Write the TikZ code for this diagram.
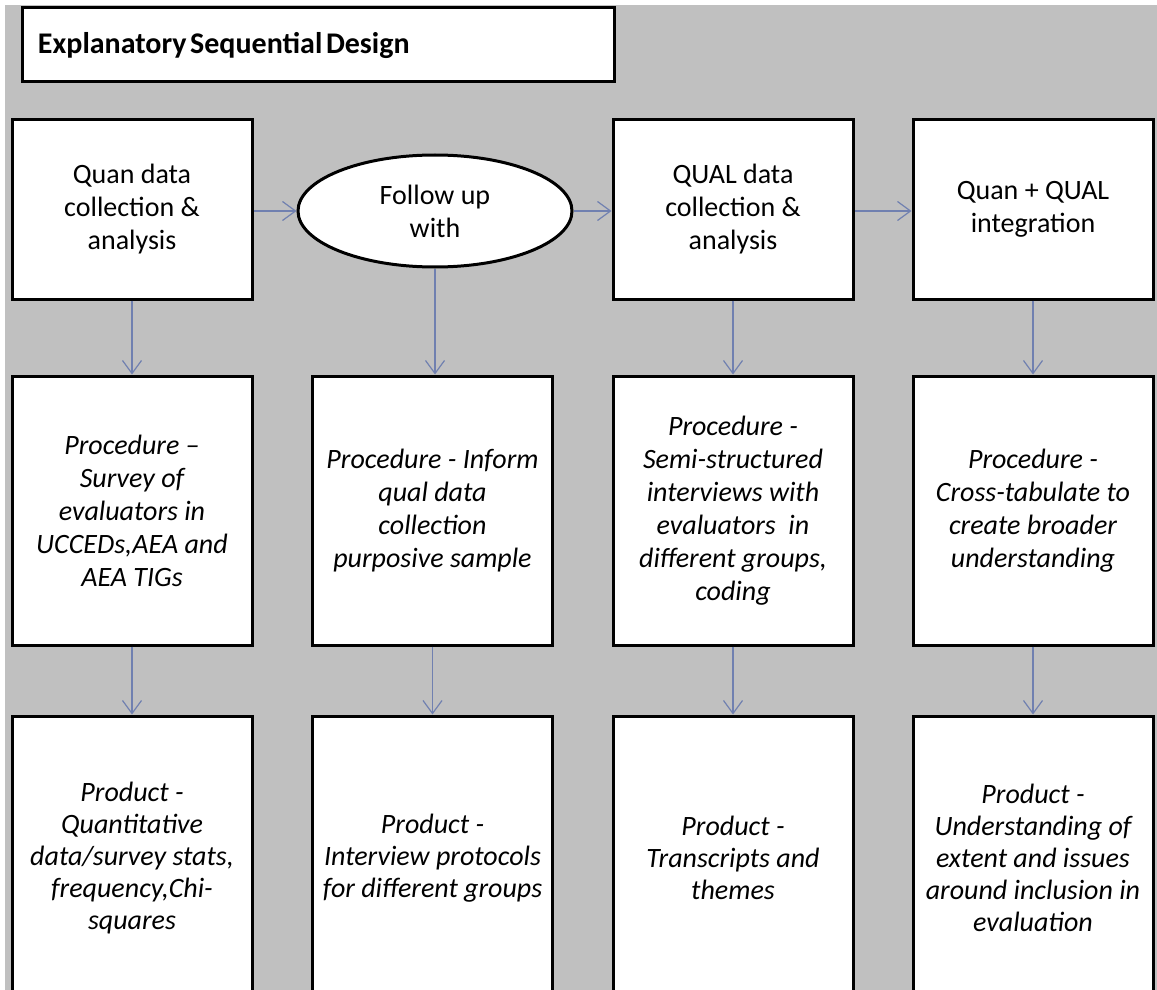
\documentclass[tikz,border=0pt]{standalone}
\usepackage{fontspec}
\setmainfont{Carlito}
\usetikzlibrary{shapes.geometric,arrows.meta}
\definecolor{bggray}{RGB}{192,192,192}
\definecolor{arrowblue}{RGB}{112,128,176}

\begin{document}
\begin{tikzpicture}[x=0.5pt,y=-0.5pt,
    box/.style={draw=black,line width=1.5pt,fill=white,align=center,minimum width=120pt,inner sep=2pt,
        font=\fontsize{14pt}{16.5pt}\selectfont},
    flow/.style={draw=arrowblue,line width=0.6pt,-{Straight Barb[length=6.5pt,width=9.5pt]}}]
            \useasboundingbox (0,0) rectangle (1157,990);
            \fill[bggray] (5,5) rectangle (1157,990);

            % title
            \node[box,minimum width=296pt,minimum height=37pt,text width=280pt,inner xsep=8pt,align=left,
                font=\fontsize{15pt}{18pt}\selectfont\bfseries] (title) at (318,45)
                {\spaceskip=0.12em\relax Explanatory Sequential Design};

            % first row
            \node[box,minimum height=89.5pt] (q1) at (132,209.5) {Quan data\\collection \&\\analysis};
            \node[box,ellipse,minimum width=137pt,minimum height=56pt] (fu) at (435,211) {Follow up\\with};
            \node[box,minimum height=89.5pt] (q3) at (733,209.5) {QUAL data\\collection \&\\analysis};
            \node[box,minimum height=89.5pt] (q4) at (1033,209.5) {Quan + QUAL\\integration};

            % procedures
            \node[box,minimum height=134.5pt,font=\fontsize{14pt}{16.5pt}\selectfont\itshape] (p1) at (132,510.5)
                {Procedure –\\Survey of\\evaluators in\\UCCEDs,AEA and\\AEA TIGs};
            \node[box,minimum height=134.5pt,font=\fontsize{14pt}{16.5pt}\selectfont\itshape] (p2) at (432.5,510.5)
                {Procedure - Inform\\qual data\\collection\\purposive sample};
            \node[box,minimum height=134.5pt,font=\fontsize{14pt}{16.5pt}\selectfont\itshape] (p3) at (733,510.5)
                {Procedure -\\Semi-structured\\interviews with\\evaluators~ in\\different groups,\\coding};
            \node[box,minimum height=134.5pt,font=\fontsize{14pt}{16.5pt}\selectfont\itshape] (p4) at (1033,510.5)
                {Procedure -\\Cross-tabulate to\\create broader\\understanding};

            % products
            \node[box,minimum height=142pt,font=\fontsize{14pt}{16pt}\selectfont\itshape] (r1) at (132,858)
                {Product -\\Quantitative\\data/survey stats,\\frequency,Chi-\\squares};
            \node[box,minimum height=142pt,font=\fontsize{14pt}{16pt}\selectfont\itshape] (r2) at (432.5,858)
                {Product -\\Interview protocols\\for different groups};
            \node[box,minimum height=142pt,font=\fontsize{14pt}{16pt}\selectfont\itshape] (r3) at (733,858)
                {Product -\\Transcripts and\\themes};
            \node[box,minimum height=142pt,font=\fontsize{14pt}{16pt}\selectfont\itshape] (r4) at (1033,858)
                {Product -\\Understanding of\\extent and issues\\around inclusion in\\evaluation};

            \draw[flow] (q1.east |- fu.west) -- (fu.west);
            \draw[flow] (fu.east) -- (fu.east -| q3.west);
            \draw[flow] (q3.east |- fu.west) -- (q4.west |- fu.west);
            \draw[flow] (fu.south) -- (fu.south |- p2.north);
            \foreach \a/\b in {q1/p1,q3/p3,q4/p4,p1/r1,p2/r2,p3/r3,p4/r4}
                \draw[flow] (\a) -- (\b);
\end{tikzpicture}
\end{document}
